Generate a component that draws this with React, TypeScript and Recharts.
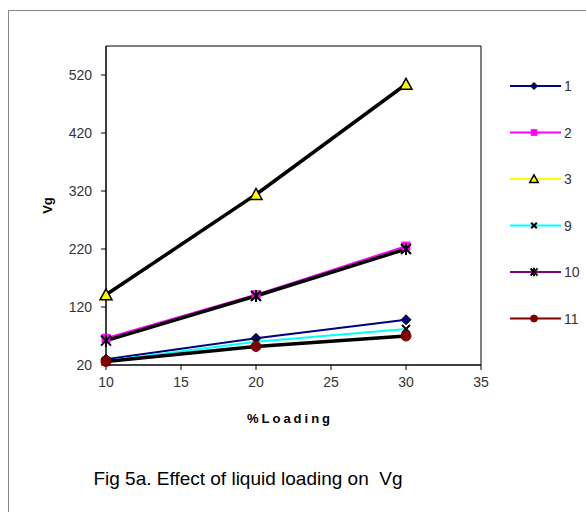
import { LineChart, Line, XAxis, YAxis, ReferenceArea } from "recharts";

const loading = [10, 20, 30];
const s1 = [30, 66, 98];
const s2 = [66, 141, 225];
const s3 = [141, 314, 504];
const s9 = [27, 60, 82];
const s10 = [62, 139, 220];
const s11 = [26, 52, 70];

const xTicks = [10, 15, 20, 25, 30, 35];
const yTicks = [20, 120, 220, 320, 420, 520];

const data = loading.map((x, i) => ({
  x,
  s1: s1[i],
  s2: s2[i],
  s3: s3[i],
  s9: s9[i],
  s10: s10[i],
  s11: s11[i],
}));

// recharts passes its own "r" to dot renderers, so marker size goes in "size"
type DotProps = { cx?: number; cy?: number; index?: number; size?: number };

const diamond = ({ cx = 0, cy = 0, index, size = 5 }: DotProps) => (
  <path key={`d${index}`} d={`M${cx},${cy - size}L${cx + size},${cy}L${cx},${cy + size}L${cx - size},${cy}Z`} fill="#000080" stroke="#000" strokeWidth={1} />
);
const square = ({ cx = 0, cy = 0, index, size = 5 }: DotProps) => (
  <rect key={`s${index}`} x={cx - size * 0.8} y={cy - size * 0.8} width={size * 1.6} height={size * 1.6} fill="#ff00ff" stroke="#ff00ff" />
);
const triangle = ({ cx = 0, cy = 0, index, size = 5 }: DotProps) => (
  <path key={`t${index}`} d={`M${cx},${cy - size * 1.2}L${cx + size * 1.2},${cy + size}L${cx - size * 1.2},${cy + size}Z`} fill="#ffff00" stroke="#000" strokeWidth={1.5} />
);
const cross = ({ cx = 0, cy = 0, index, size = 5 }: DotProps) => (
  <path key={`x${index}`} d={`M${cx - size * 0.8},${cy - size * 0.8}L${cx + size * 0.8},${cy + size * 0.8}M${cx + size * 0.8},${cy - size * 0.8}L${cx - size * 0.8},${cy + size * 0.8}`} stroke="#000" strokeWidth={2} fill="none" />
);
const star = ({ cx = 0, cy = 0, index, size = 5 }: DotProps) => (
  <path key={`a${index}`} d={`M${cx - size},${cy - size}L${cx + size},${cy + size}M${cx + size},${cy - size}L${cx - size},${cy + size}M${cx},${cy - size * 1.2}L${cx},${cy + size * 1.2}`} stroke="#000" strokeWidth={2} fill="none" />
);
const circle = ({ cx = 0, cy = 0, index, size = 5 }: DotProps) => (
  <circle key={`c${index}`} cx={cx} cy={cy} r={size} fill="#800000" stroke="#800000" />
);

const SERIES = [
  { key: "s1", name: "1", color: "#000080", dot: diamond },
  { key: "s2", name: "2", color: "#ff00ff", dot: square },
  { key: "s3", name: "3", color: "#ffff00", dot: triangle },
  { key: "s9", name: "9", color: "#00ffff", dot: cross },
  { key: "s10", name: "10", color: "#800080", dot: star },
  { key: "s11", name: "11", color: "#800000", dot: circle },
];

const trendKeys = ["s3", "s10", "s11"];

const font = "'Liberation Sans', Arial, sans-serif";

function LegendBox() {
  return (
    <svg width={86} height={280} style={{ position: "absolute", left: 500, top: 60 }}>
      {SERIES.map((s, i) => {
        const y = 26 + i * 46.5;
        return (
          <g key={s.key}>
            <line x1={10} x2={61} y1={y} y2={y} stroke={s.color} strokeWidth={2} />
            {s.dot({ cx: 34, cy: y, index: 100 + i, size: 3.5 })}
            <text x={64} y={y + 5} fontSize={14} fill="#333" fontFamily={font}>
              {s.name}
            </text>
          </g>
        );
      })}
    </svg>
  );
}

export default function App() {
  return (
    <div style={{ position: "absolute", left: 0, top: 0, width: 586, height: 512, overflow: "hidden", background: "#fff", fontFamily: font }}>
      <div style={{ position: "absolute", left: 8, top: 10, width: 600, height: 600, borderLeft: "1px solid #888", borderTop: "1px solid #888" }} />
      <div style={{ position: "absolute", left: 0, top: 0 }}>
        <LineChart width={586} height={512} data={data} margin={{ top: 46, right: 105, bottom: 117, left: 46 }}>
          <ReferenceArea x1={10} x2={35} y1={20} y2={570} fill="none" stroke="#000" strokeWidth={1} ifOverflow="visible" />
          <XAxis
            dataKey="x"
            type="number"
            domain={[10, 35]}
            ticks={xTicks}
            height={30}
            stroke="#000"
            tickSize={5}
            tickMargin={7}
            tick={{ fill: "#333", fontSize: 14, fontFamily: font }}
          />
          <YAxis
            type="number"
            domain={[20, 570]}
            ticks={yTicks}
            width={60}
            stroke="#000"
            tickSize={5}
            tickMargin={9}
            tick={{ fill: "#333", fontSize: 14, fontFamily: font }}
          />
          {SERIES.map((s) => (
            <Line key={s.key} dataKey={s.key} name={s.name} stroke={s.color} strokeWidth={2} dot={false} isAnimationActive={false} />
          ))}
          {trendKeys.map((k) => (
            <Line key={`t-${k}`} dataKey={k} stroke="#000" strokeWidth={3.5} dot={false} legendType="none" isAnimationActive={false} />
          ))}
          {SERIES.map((s) => (
            <Line
              key={`m-${s.key}`}
              dataKey={s.key}
              stroke="none"
              dot={(p: DotProps) => s.dot({ cx: p.cx, cy: p.cy, index: p.index })}
              activeDot={false}
              legendType="none"
              isAnimationActive={false}
            />
          ))}
        </LineChart>
      </div>
      <LegendBox />
      <div style={{ position: "absolute", left: 39, top: 198, transform: "rotate(-90deg)", fontSize: 13, fontWeight: "bold", color: "#000" }}>
        Vg
      </div>
      <div style={{ position: "absolute", left: 190, top: 411, width: 200, textAlign: "center", fontSize: 13, fontWeight: "bold", letterSpacing: 3, color: "#000" }}>
        %Loading
      </div>
      <div style={{ position: "absolute", left: 0, top: 468, width: 496, textAlign: "center", fontSize: 19, color: "#000", whiteSpace: "pre" }}>
        {"Fig 5a. Effect of liquid loading on  Vg"}
      </div>
    </div>
  );
}
